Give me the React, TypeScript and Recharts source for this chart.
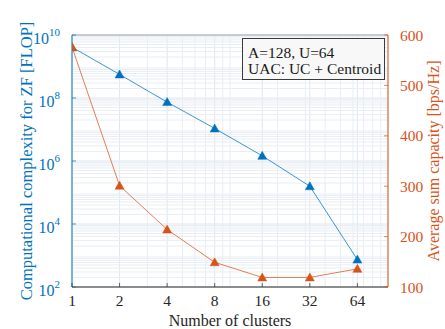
import { LineChart, Line, XAxis, YAxis, CartesianGrid, ReferenceLine, Label } from "recharts";

const clusters = [1, 2, 4, 8, 16, 32, 64];
const complexity = [4.1e9, 5.6e8, 7.4e7, 1.08e7, 1.46e6, 1.58e5, 740];
const capacity = [576, 301, 214, 149, 119, 119, 136];

const xTicks = [1, 2, 4, 8, 16, 32, 64];
const leftTicks = [1e2, 1e4, 1e6, 1e8, 1e10];
const rightTicks = [100, 200, 300, 400, 500, 600];
const xMinor = [3, 5, 6, 7, 9, 10, 20, 30, 40, 50, 60, 70, 80, 90];
const yMinor: number[] = [];
for (let k = 2; k < 10; k++) {
  for (let d = 2; d <= 9; d++) yMinor.push(d * Math.pow(10, k));
}

const BLUE = "#0072BD";
const ORANGE = "#D95319";
const FONT = "Liberation Serif, DejaVu Serif, serif";

const data = clusters.map((c, i) => ({
  clusters: c,
  complexity: complexity[i],
  capacity: capacity[i],
}));

function triangle(color: string) {
  return (props: any) => {
    const { cx, cy, index } = props;
    if (cx == null || cy == null) return <g key={index} />;
    return (
      <path
        key={index}
        d={`M${cx},${cy - 4.5} L${cx + 4.5},${cy + 3.5} L${cx - 4.5},${cy + 3.5} Z`}
        fill={color}
        stroke={color}
        strokeWidth={0.5}
      />
    );
  };
}

function XTick({ x, y, payload }: any) {
  return (
    <g>
      <line x1={x} x2={x} y1={287} y2={283} stroke="#262626" strokeWidth={0.7} />
      <text x={x} y={y + 11} textAnchor="middle" fontSize={15.5} style={{ fontFamily: FONT }} fill="#262626">
        {payload.value}
      </text>
    </g>
  );
}

function LeftTick({ x, y, payload }: any) {
  const exp = Math.round(Math.log10(payload.value));
  return (
    <g>
      <line x1={72} x2={76} y1={y} y2={y} stroke={BLUE} strokeWidth={0.7} />
      <text x={x} y={y + 9} textAnchor="end" style={{ fontFamily: FONT }} fill={BLUE}>
        <tspan fontSize={16}>10</tspan>
        <tspan fontSize={11} dy={-8}>{exp}</tspan>
      </text>
    </g>
  );
}

function RightTick({ x, y, payload }: any) {
  return (
    <g>
      <line x1={388} x2={384} y1={y} y2={y} stroke={ORANGE} strokeWidth={0.7} />
      <text x={x} y={y + 5.5} textAnchor="start" fontSize={15.5} style={{ fontFamily: FONT }} fill={ORANGE}>
        {payload.value}
      </text>
    </g>
  );
}

export default function App() {
  return (
    <div style={{ position: "absolute", left: 0, top: 0, width: 445, height: 329, background: "#fff" }}>
      <LineChart
        width={445}
        height={329}
        data={data}
        margin={{ top: 35, right: 7, left: 12, bottom: 20 }}
      >
        <CartesianGrid stroke="#dfe6ee" strokeWidth={1} yAxisId="left" />
        {xMinor.map((v) => (
          <ReferenceLine key={"x" + v} x={v} yAxisId="left" stroke="#e8eef4" strokeWidth={1} />
        ))}
        {yMinor.map((v) => (
          <ReferenceLine key={"y" + v} y={v} yAxisId="left" stroke="#e8eef4" strokeWidth={1} />
        ))}
        <ReferenceLine y={1e10} yAxisId="left" stroke="#9aa6b2" strokeWidth={1} />
        <XAxis
          dataKey="clusters"
          type="number"
          scale="log"
          domain={[1, 100]}
          ticks={xTicks}
          allowDataOverflow
          height={22}
          stroke="#262626"
          tickLine={false}
          tick={<XTick />}
        >
          <Label
            content={(props: any) => {
              const vb = props.viewBox;
              return (
                <text
                  x={vb.x + vb.width / 2}
                  y={vb.y + 39}
                  textAnchor="middle"
                  fontSize={16}
                  style={{ fontFamily: FONT }}
                  fill="#262626"
                >
                  Number of clusters
                </text>
              );
            }}
          />
        </XAxis>
        <YAxis
          yAxisId="left"
          scale="log"
          domain={[1e2, 1e10]}
          ticks={leftTicks}
          allowDataOverflow
          width={60}
          stroke={BLUE}
          tickLine={false}
          tickMargin={6}
          tick={<LeftTick />}
        >
          <Label
            content={(props: any) => {
              const vb = props.viewBox;
              const cx = 26;
              const cy = vb.y + vb.height / 2;
              return (
                <text
                  x={cx}
                  y={cy}
                  transform={`rotate(-90, ${cx}, ${cy})`}
                  textAnchor="middle"
                  dominantBaseline="central"
                  fontSize={16.5}
                  style={{ fontFamily: FONT }}
                  fill={BLUE}
                >
                  Computational complexity for ZF [FLOP]
                </text>
              );
            }}
          />
        </YAxis>
        <YAxis
          yAxisId="right"
          orientation="right"
          domain={[100, 600]}
          ticks={rightTicks}
          allowDataOverflow
          width={50}
          stroke={ORANGE}
          tickLine={false}
          tickMargin={6}
          tick={<RightTick />}
        >
          <Label
            content={(props: any) => {
              const vb = props.viewBox;
              const cx = 433;
              const cy = vb.y + vb.height / 2;
              return (
                <text
                  x={cx}
                  y={cy}
                  transform={`rotate(-90, ${cx}, ${cy})`}
                  textAnchor="middle"
                  dominantBaseline="central"
                  fontSize={16}
                  style={{ fontFamily: FONT }}
                  fill={ORANGE}
                >
                  Average sum capacity [bps/Hz]
                </text>
              );
            }}
          />
        </YAxis>
        <Line
          yAxisId="left"
          dataKey="complexity"
          stroke={BLUE}
          strokeOpacity={0.75}
          strokeWidth={1}
          dot={triangle(BLUE)}
          activeDot={false}
          isAnimationActive={false}
        />
        <Line
          yAxisId="right"
          dataKey="capacity"
          stroke={ORANGE}
          strokeOpacity={0.75}
          strokeWidth={1}
          dot={triangle(ORANGE)}
          activeDot={false}
          isAnimationActive={false}
        />
      </LineChart>
      <div
        style={{
          position: "absolute",
          left: 242,
          top: 38,
          width: 143,
          height: 42,
          boxSizing: "border-box",
          border: "1px solid #3a3a3a",
          background: "#f8f8f8",
          fontFamily: FONT,
          fontSize: 15.5,
          lineHeight: "15.5px",
          color: "#1a1a1a",
          padding: "6px 0 0 5px",
          whiteSpace: "nowrap",
        }}
      >
        <div>A=128, U=64</div>
        <div>UAC: UC + Centroid</div>
      </div>
    </div>
  );
}
